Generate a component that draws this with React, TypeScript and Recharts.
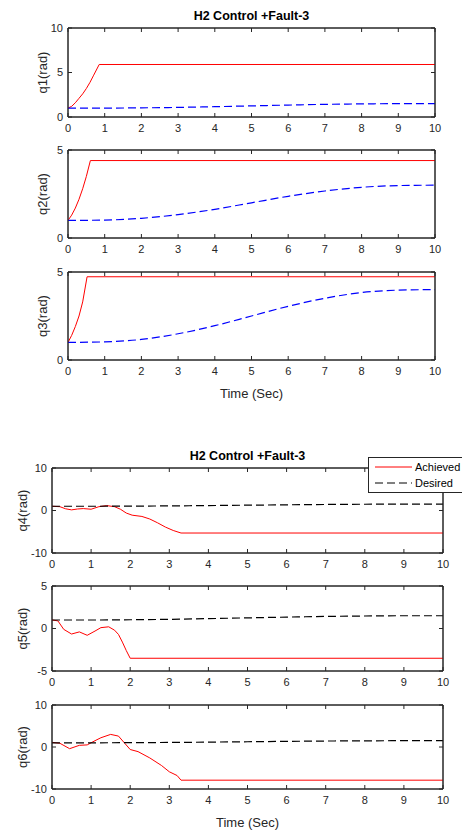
import React from "react";
import { LineChart, Line, XAxis, YAxis, Legend, Label, ReferenceArea } from "recharts";

// time axis
const timeTicks = [0, 1, 2, 3, 4, 5, 6, 7, 8, 9, 10];
const desiredT = [0, 1, 2, 3, 4, 5, 6, 7, 8, 9, 10];

// desired trajectories
const q1Desired = [1.0, 1.0, 1.03, 1.08, 1.16, 1.25, 1.34, 1.42, 1.47, 1.5, 1.5];
const q2Desired = [1.0, 1.02, 1.12, 1.33, 1.63, 2.0, 2.37, 2.67, 2.88, 2.98, 3.0];
const q3Desired = [1.0, 1.03, 1.17, 1.49, 1.95, 2.5, 3.05, 3.51, 3.83, 3.97, 4.0];
const q4Desired = [1.0, 1.0, 1.03, 1.08, 1.16, 1.25, 1.34, 1.42, 1.47, 1.5, 1.5];
const q5Desired = [1.0, 1.0, 1.03, 1.08, 1.16, 1.25, 1.34, 1.42, 1.47, 1.5, 1.5];
const q6Desired = [1.0, 1.0, 1.03, 1.08, 1.16, 1.25, 1.34, 1.42, 1.47, 1.5, 1.5];

// achieved trajectories
const q1T = [0, 0.1, 0.2, 0.3, 0.4, 0.5, 0.6, 0.7, 0.85, 10];
const q1Achieved = [1.0, 1.2, 1.6, 2.1, 2.6, 3.2, 3.9, 4.7, 5.9, 5.9];
const q2T = [0, 0.1, 0.2, 0.3, 0.4, 0.5, 0.61, 10];
const q2Achieved = [1.0, 1.3, 1.7, 2.2, 2.8, 3.5, 4.4, 4.4];
const q3T = [0, 0.1, 0.2, 0.3, 0.4, 0.52, 10];
const q3Achieved = [1.0, 1.4, 1.9, 2.5, 3.3, 4.73, 4.73];
const q4T = [0, 0.2, 0.35, 0.5, 0.65, 0.8, 1.0, 1.2, 1.4, 1.6, 1.75, 1.9, 2.05, 2.3, 2.5, 2.7, 2.9, 3.1, 3.3, 10];
const q4Achieved = [1.0, 0.9, 0.4, 0.15, 0.35, 0.45, 0.3, 0.9, 1.15, 0.9, 0.3, -0.6, -1.1, -1.4, -2.0, -2.9, -3.9, -4.7, -5.3, -5.3];
const q5T = [0, 0.15, 0.3, 0.5, 0.7, 0.9, 1.1, 1.25, 1.45, 1.6, 1.7, 1.8, 1.9, 2.0, 10];
const q5Achieved = [1.0, 0.9, -0.1, -0.65, -0.4, -0.8, -0.3, 0.1, 0.2, -0.2, -0.7, -1.6, -2.6, -3.5, -3.5];
const q6T = [0, 0.2, 0.45, 0.7, 0.9, 1.1, 1.25, 1.5, 1.7, 1.85, 2.0, 2.2, 2.5, 2.8, 3.0, 3.2, 3.3, 10];
const q6Achieved = [1.1, 0.9, -0.4, 0.4, 0.5, 1.5, 2.2, 3.0, 2.6, 1.0, -0.6, -1.1, -2.6, -4.4, -5.9, -6.8, -7.9, -7.9];

const ticks010 = [0, 5, 10];
const ticks05 = [0, 5];
const ticksPm10 = [-10, 0, 10];
const ticksPm5 = [-5, 0, 5];

const title = "H2 Control +Fault-3";

const FONT = "'Liberation Sans', Arial, Helvetica, sans-serif";
const AX = "#262626";

const pts = (t: number[], v: number[]) => t.map((x, i) => ({ t: x, v: v[i] }));

type SubProps = {
  plotTop: number;
  plotBottom: number;
  plotLeft: number;
  plotRight: number;
  yDomain: [number, number];
  yTicks: number[];
  yLabel: string;
  labelOffset: number;
  achieved: { t: number; v: number }[];
  desired: { t: number; v: number }[];
  desiredColor: string;
  title?: string;
  timeLabel?: boolean;
  legend?: boolean;
};

const LegendBox = ({ payload }: any) => (
  <div
    style={{
      border: "1px solid " + AX,
      background: "#fff",
      padding: "1px 6px",
      fontFamily: FONT,
      fontSize: 11,
      color: "#000",
      whiteSpace: "nowrap",
    }}
  >
    {(payload || []).filter((e: any) => e.type !== "none").map((e: any) => (
      <div key={e.value} style={{ display: "flex", alignItems: "center", height: 16 }}>
        <svg width={37} height={4}>
          <line x1={0} y1={2} x2={37} y2={2} stroke={e.color} strokeWidth={1}
            strokeDasharray={e.payload && e.payload.strokeDasharray} />
        </svg>
        <span style={{ marginLeft: 3 }}>{e.value}</span>
      </div>
    ))}
  </div>
);

const Subplot: React.FC<SubProps> = (p) => {
  const padTop = 30;
  const xh = p.timeLabel ? 42 : 20;
  const yw = 30;
  const height = p.plotBottom - p.plotTop + padTop + xh + 2;
  const chartTop = p.plotTop - padTop;
  return (
    <div style={{ position: "absolute", left: 0, top: chartTop }}>
      {p.title && (
        <div style={{
          position: "absolute", left: p.plotLeft, width: p.plotRight - p.plotLeft, top: padTop - 19,
          textAlign: "center", fontFamily: FONT, fontSize: 12.5, fontWeight: "bold", color: "#000",
          lineHeight: "14px", whiteSpace: "nowrap",
        }}>{p.title}</div>
      )}
      <LineChart
        width={462}
        height={height}
        margin={{ top: padTop - 1, right: 462 - p.plotRight - 1, bottom: 2, left: p.plotLeft - yw }}
        style={{ fontFamily: FONT }}
      >
        <XAxis xAxisId="b" dataKey="t" type="number" domain={[0, 10]} ticks={timeTicks} interval={0}
          allowDataOverflow height={xh} stroke={AX} tickSize={-4} tickMargin={11}
          tick={{ fill: AX, fontSize: 11 }}>
          {p.timeLabel && (
            <Label value="Time (Sec)" position="insideBottom" offset={4}
              style={{ fill: AX, fontSize: 13 }} />
          )}
        </XAxis>
        <XAxis xAxisId="t" orientation="top" dataKey="t" type="number" domain={[0, 10]} ticks={timeTicks}
          interval={0} allowDataOverflow height={1} stroke={AX} tickSize={-4} tickFormatter={() => ""} />
        <YAxis yAxisId="l" type="number" domain={p.yDomain} ticks={p.yTicks} interval={0}
          allowDataOverflow width={yw} stroke={AX} tickSize={-4} tickMargin={9}
          tick={{ fill: AX, fontSize: 11 }}>
          <Label value={p.yLabel} angle={-90} position="insideLeft" offset={p.labelOffset}
            style={{ textAnchor: "middle", fill: AX, fontSize: 13 }} />
        </YAxis>
        <YAxis yAxisId="r" orientation="right" type="number" domain={p.yDomain} ticks={p.yTicks}
          interval={0} allowDataOverflow width={1} stroke={AX} tickSize={-4} tickFormatter={() => ""} />
        {/* box around the plot area */}
        <ReferenceArea xAxisId="b" yAxisId="l" x1={0} x2={10} y1={p.yDomain[0]} y2={p.yDomain[1]}
          fill="none" fillOpacity={0} stroke={AX} strokeWidth={1} />
        {/* invisible series so the mirrored top/right axes get their ticks */}
        <Line xAxisId="t" yAxisId="r" data={p.desired} dataKey="v" stroke="none" dot={false}
          legendType="none" activeDot={false} isAnimationActive={false} />
        <Line xAxisId="b" yAxisId="l" data={p.achieved} dataKey="v" name="Achieved" type="linear"
          stroke="#ff0000" strokeWidth={1} dot={false} isAnimationActive={false} />
        <Line xAxisId="b" yAxisId="l" data={p.desired} dataKey="v" name="Desired" type="monotone"
          stroke={p.desiredColor} strokeWidth={1.2} strokeDasharray="8 4" dot={false}
          isAnimationActive={false} />
        {p.legend && (
          <Legend verticalAlign="middle" align="center" content={LegendBox}
            wrapperStyle={{ left: 368, top: 457 - chartTop, width: "auto", height: "auto" }} />
        )}
      </LineChart>
    </div>
  );
};

export default function App() {
  return (
    <div style={{ position: "absolute", left: 0, top: 0, width: 462, height: 832, overflow: "hidden", background: "#fff" }}>
      <Subplot plotTop={28} plotBottom={117} plotLeft={68} plotRight={435} yDomain={[0, 10]} yTicks={ticks010}
        yLabel="q1(rad)" labelOffset={4} achieved={pts(q1T, q1Achieved)} desired={pts(desiredT, q1Desired)}
        desiredColor="#0000ff" title={title} />
      <Subplot plotTop={150} plotBottom={238} plotLeft={68} plotRight={435} yDomain={[0, 5]} yTicks={ticks05}
        yLabel="q2(rad)" labelOffset={4} achieved={pts(q2T, q2Achieved)} desired={pts(desiredT, q2Desired)}
        desiredColor="#0000ff" />
      <Subplot plotTop={272} plotBottom={360} plotLeft={68} plotRight={435} yDomain={[0, 5]} yTicks={ticks05}
        yLabel="q3(rad)" labelOffset={4} achieved={pts(q3T, q3Achieved)} desired={pts(desiredT, q3Desired)}
        desiredColor="#0000ff" timeLabel />
      <Subplot plotTop={468} plotBottom={553} plotLeft={52} plotRight={443} yDomain={[-10, 10]} yTicks={ticksPm10}
        yLabel="q4(rad)" labelOffset={0} achieved={pts(q4T, q4Achieved)} desired={pts(desiredT, q4Desired)}
        desiredColor="#000000" title={title} legend />
      <Subplot plotTop={586} plotBottom={671} plotLeft={52} plotRight={443} yDomain={[-5, 5]} yTicks={ticksPm5}
        yLabel="q5(rad)" labelOffset={0} achieved={pts(q5T, q5Achieved)} desired={pts(desiredT, q5Desired)}
        desiredColor="#000000" />
      <Subplot plotTop={705} plotBottom={789} plotLeft={52} plotRight={443} yDomain={[-10, 10]} yTicks={ticksPm10}
        yLabel="q6(rad)" labelOffset={0} achieved={pts(q6T, q6Achieved)} desired={pts(desiredT, q6Desired)}
        desiredColor="#000000" timeLabel />
    </div>
  );
}
